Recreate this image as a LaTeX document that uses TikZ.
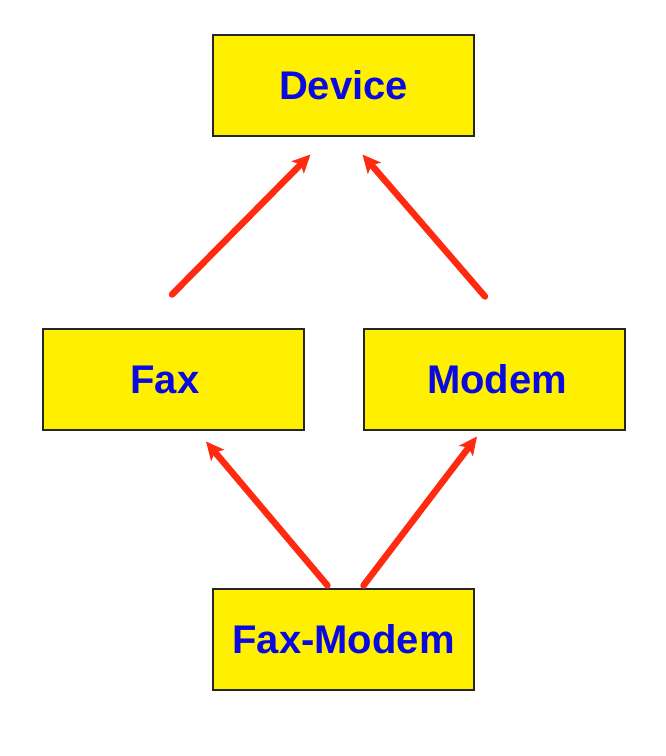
\documentclass[tikz,border=0pt]{standalone}
\usepackage{fontspec}
\setmainfont{Liberation Sans}
\usetikzlibrary{arrows.meta,calc}
\definecolor{boxyellow}{HTML}{FFF000}
\definecolor{txtblue}{HTML}{0A0AE0}
\definecolor{arrred}{HTML}{FF2A10}
\begin{document}
\begin{tikzpicture}[x=1pt,y=-1pt,
  cls/.style={draw=black!85, line width=2pt, fill=boxyellow, minimum width=261pt, minimum height=101pt, inner sep=0pt, text height=28.6pt, text depth=0pt, font=\fontsize{40}{44}\selectfont\bfseries, text=txtblue},
  inh/.style={draw=arrred, line width=6.5pt, line cap=round, -{Stealth[length=18pt,width=17pt,inset=4pt]}}]
\path[use as bounding box] (0,0) rectangle (666,756);
\node[cls] (device) at (343.5,85) {Device};
\node[cls, text width=245pt, align=center] (fax) at (173,379) {\hspace*{-16pt}Fax};
\node[cls] (modem) at (494.5,379) {\hspace*{5pt}Modem};
\node[cls] (fm) at (343.5,639) {Fax-Modem};
\coordinate (a1s) at ($(fax.north)+(-1,-33)$);
\coordinate (a1e) at ($(device.south)+(-33,18)$);
\coordinate (a2s) at ($(modem.north)+(-9.5,-31)$);
\coordinate (a2e) at ($(device.south)+(19,18)$);
\coordinate (a3s) at ($(fm.north)+(-16,-2)$);
\coordinate (a3e) at ($(fax.south)+(33,11)$);
\coordinate (a4s) at ($(fm.north)+(20,-2)$);
\coordinate (a4e) at ($(modem.south)+(-17.5,6)$);
\draw[inh] (a1s) -- (a1e);
\draw[inh] (a2s) -- (a2e);
\draw[inh] (a3s) -- (a3e);
\draw[inh] (a4s) -- (a4e);
\end{tikzpicture}
\end{document}
